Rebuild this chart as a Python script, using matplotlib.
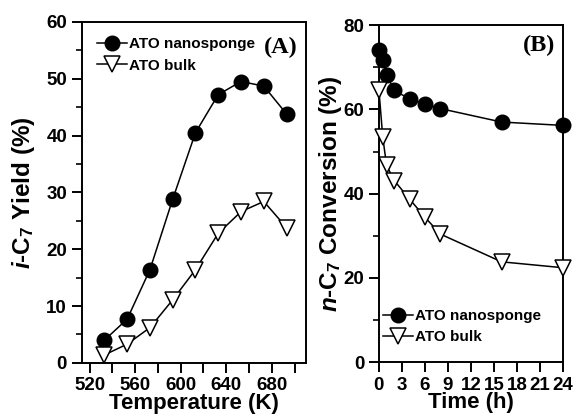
import matplotlib
matplotlib.use("Agg")
import matplotlib.pyplot as plt
from matplotlib.ticker import MultipleLocator

plt.rcParams['font.family'] = ['Liberation Sans', 'DejaVu Sans']
plt.rcParams['font.weight'] = 'bold'
plt.rcParams['mathtext.fontset'] = 'custom'
plt.rcParams['mathtext.rm'] = 'Liberation Sans:bold'
plt.rcParams['mathtext.it'] = 'Liberation Sans:italic:bold'
plt.rcParams['mathtext.bf'] = 'Liberation Sans:bold'

# (A) i-C7 yield vs temperature
temp_k = [533, 553, 573, 593, 613, 633, 653, 673, 693]
yield_sponge = [4.0, 7.7, 16.4, 28.8, 40.5, 47.2, 49.5, 48.7, 43.8]
yield_bulk = [1.4, 3.3, 6.2, 11.1, 16.4, 22.8, 26.6, 28.4, 23.8]

# (B) n-C7 conversion vs time on stream
time_h = [0, 0.5, 1, 2, 4, 6, 8, 16, 24]
conv_sponge = [74.0, 71.7, 68.2, 64.5, 62.5, 61.3, 60.2, 57.0, 56.2]
conv_bulk = [64.6, 53.4, 46.7, 43.1, 38.7, 34.4, 30.4, 23.8, 22.4]

lbl_sponge = 'ATO nanosponge'
lbl_bulk = 'ATO bulk'

fig = plt.figure(figsize=(5.75, 4.2), dpi=100)
axA = fig.add_axes([0.142, 0.136, 0.390, 0.812])
axB = fig.add_axes([0.659, 0.138, 0.320, 0.802])

sponge_style = dict(color='black', marker='o', markersize=10.5, linewidth=1.1,
                    clip_on=False, zorder=3)
bulk_style = dict(color='black', marker='v', markersize=11, linewidth=1.1,
                  markerfacecolor='white', markeredgewidth=1.1,
                  clip_on=False, zorder=3)

axA.plot(temp_k, yield_sponge, label=lbl_sponge, **sponge_style)
axA.plot(temp_k, yield_bulk, label=lbl_bulk, **bulk_style)
axB.plot(time_h, conv_sponge, label=lbl_sponge, **sponge_style)
axB.plot(time_h, conv_bulk, label=lbl_bulk, **bulk_style)

axA.set_xlim(513, 710)
axA.set_ylim(0, 60)
axA.xaxis.set_major_locator(MultipleLocator(40))
axA.xaxis.set_minor_locator(MultipleLocator(20))
axA.yaxis.set_major_locator(MultipleLocator(10))
axA.yaxis.set_minor_locator(MultipleLocator(5))

axB.set_xlim(0, 24)
axB.set_ylim(0, 80)
axB.xaxis.set_major_locator(MultipleLocator(3))
axB.yaxis.set_major_locator(MultipleLocator(20))
axB.yaxis.set_minor_locator(MultipleLocator(10))

for ax in (axA, axB):
    for s in ax.spines.values():
        s.set_linewidth(1.4)
    ax.tick_params(axis='both', which='major', direction='out', length=7.5,
                   width=1.4, labelsize=13.5)
    ax.tick_params(axis='x', which='major', pad=3)
    ax.tick_params(axis='y', which='major', pad=3)
    ax.tick_params(axis='y', which='minor', direction='out', length=4, width=1.2)
    ax.tick_params(axis='x', which='minor', direction='out', length=7.5, width=1.4)

axA.set_xlabel('Temperature (K)', fontsize=16, fontweight='bold', labelpad=-1)
axA.set_ylabel(r'$i$-C$_7$ Yield (%)', fontsize=17.5, fontweight='bold')
axA.yaxis.set_label_coords(-0.2, 0.5)
axB.set_xlabel('Time (h)', fontsize=16, fontweight='bold', labelpad=-1)
axB.set_ylabel(r'$n$-C$_7$ Conversion (%)', fontsize=17.5, fontweight='bold')
axB.yaxis.set_label_coords(-0.19, 0.5)

axA.text(0.964, 0.924, '(A)', transform=axA.transAxes, ha='right', va='center',
         fontsize=17.5, fontweight='bold', family='Liberation Serif')
axB.text(0.957, 0.94, '(B)', transform=axB.transAxes, ha='right', va='center',
         fontsize=17.5, fontweight='bold', family='Liberation Serif')

leg_kw = dict(frameon=False, handlelength=2.0, handletextpad=0.1,
              labelspacing=0.5, borderaxespad=0.0, borderpad=0.0,
              prop={'family': 'Liberation Sans', 'weight': 'bold', 'size': 11})
axA.legend(loc='center left', bbox_to_anchor=(0.068, 0.903), **leg_kw)
axB.legend(loc='center left', bbox_to_anchor=(0.02, 0.105), **leg_kw)

fig.savefig('out.png', dpi=100)
